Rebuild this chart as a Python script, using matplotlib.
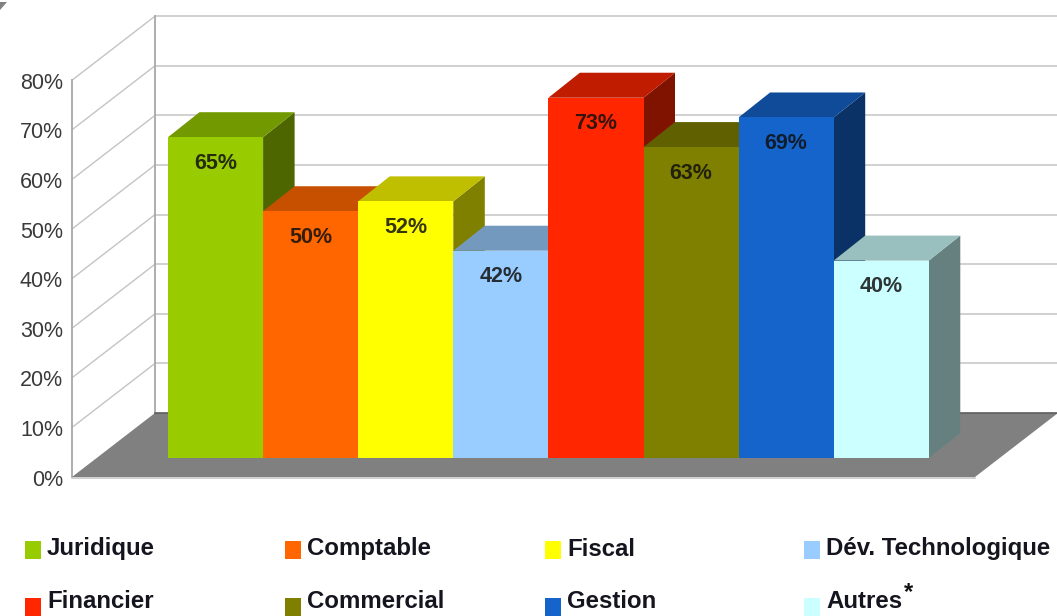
import matplotlib
matplotlib.use("Agg")
import matplotlib.pyplot as plt
from matplotlib.patches import Polygon, Rectangle

plt.rcParams['font.family'] = ['Liberation Sans', 'DejaVu Sans']

categories = ['Juridique', 'Comptable', 'Fiscal', 'Dév. Technologique',
              'Financier', 'Commercial', 'Gestion', 'Autres']
values = [65, 50, 52, 42, 73, 63, 69, 40]
ticks = [0, 10, 20, 30, 40, 50, 60, 70, 80]

front_colors = ['#99CC00', '#FF6600', '#FFFF00', '#99CCFF',
                '#FF2600', '#808000', '#1464CC', '#CCFFFF']
top_colors = ['#739900', '#C75000', '#BFBF00', '#7399BF',
              '#BF1C00', '#606000', '#0F4B99', '#99BFBF']
side_colors = ['#4D6600', '#803300', '#808000', '#4D6680',
               '#801300', '#404000', '#0A3266', '#668080']

W, H = 1057, 616
PX_X = 95.1       # pixels per category
PX_Y = 4.96       # pixels per percent
X0_PX, Y0_PX = 168.0, 477.0   # pixel of category 0 left edge / 0 % on front axis

fig = plt.figure(figsize=(W / 100, H / 100), dpi=100, facecolor='white')
ax = fig.add_axes([0, 0, 1, 1])
ax.set_xlim(-X0_PX / PX_X, (W - X0_PX) / PX_X)
ax.set_ylim(-(H - Y0_PX) / PX_Y, Y0_PX / PX_Y)
ax.axis('off')

def P(x, y):
    return (x / W, 1 - y / H)

# oblique depth, in data units
wall_dx, wall_dy = 83 / PX_X, 64 / PX_Y
bar_dx, bar_dy = 31.5 / PX_X, 25 / PX_Y
axis_x = (72 - X0_PX) / PX_X
floor_right = (975 - X0_PX) / PX_X
bar_base = 19 / PX_Y
bar_scale = 0.995
ymax = ticks[-1]

grid = '#C4C4C4'
axis_col = '#A8A8A8'

# back wall and side wall gridlines
for t in ticks[1:]:
    ax.plot([axis_x + wall_dx, floor_right + wall_dx], [t + wall_dy] * 2,
            color=grid, lw=1.1, zorder=1, solid_capstyle='butt')
    ax.plot([axis_x, axis_x + wall_dx], [t, t + wall_dy],
            color=grid, lw=1.0, zorder=1)
ax.plot([axis_x + wall_dx] * 2, [wall_dy, ymax + wall_dy], color=axis_col, lw=1.3, zorder=2)
ax.plot([axis_x] * 2, [0, ymax], color=axis_col, lw=1.3, zorder=2)

# floor
ax.add_patch(Polygon([(axis_x, 0), (floor_right, 0),
                      (floor_right + wall_dx, wall_dy), (axis_x + wall_dx, wall_dy)],
                     closed=True, fc='#808080', ec='none', zorder=3))
ax.plot([axis_x + wall_dx, floor_right + wall_dx], [wall_dy, wall_dy],
        color='#5E5E5E', lw=1.2, zorder=3)
ax.plot([axis_x, floor_right], [-0.25, -0.25], color='#C8C8C8', lw=1.2, zorder=3)

# bars, painted left to right
z = 4
for i, v in enumerate(values):
    top = bar_base + v * bar_scale
    ax.add_patch(Polygon([(i + 1, bar_base), (i + 1 + bar_dx, bar_base + bar_dy),
                          (i + 1 + bar_dx, top + bar_dy), (i + 1, top)],
                         closed=True, fc=side_colors[i], ec='none', zorder=z))
    ax.add_patch(Polygon([(i, top), (i + bar_dx, top + bar_dy),
                          (i + 1 + bar_dx, top + bar_dy), (i + 1, top)],
                         closed=True, fc=top_colors[i], ec='none', zorder=z))
    ax.add_patch(Rectangle((i, bar_base), 1, top - bar_base,
                           fc=front_colors[i], ec='none', zorder=z + 0.5))
    ax.annotate(f'{v}%', (i + 0.5, top), xytext=(0, -26), textcoords='offset pixels',
                ha='center', va='center', fontsize=15.5, fontweight='bold',
                color='#111111', zorder=30, alpha=0.85)
    z += 1

# tick labels
for t in ticks:
    ax.annotate(f'{t}%', (axis_x, t), xytext=(-9, -3), textcoords='offset pixels',
                ha='right', va='center', fontsize=15.5, color='#3A3A3A', zorder=30)

# legend
col_px = [25, 285, 545, 804]
row_px = [550, 607]
text_px = [549, 602]
for i, name in enumerate(categories):
    cx, cy = col_px[i % 4], row_px[i // 4]
    fig.patches.append(Rectangle(P(cx, cy + 9), 16 / W, 18 / H, transform=fig.transFigure,
                                 fc=front_colors[i], ec='none', figure=fig))
    fig.text(*P(cx + 22, text_px[i // 4]), name, ha='left', va='center', fontsize=17.3,
             fontweight='bold', color='#15151F')
fig.text(*P(908, 593), '*', ha='center', va='center', fontsize=17,
         fontweight='bold', color='#111111')

# small corner mark
fig.patches.append(Polygon([P(0, 2), P(7, 2), P(0, 10)], closed=True,
                           transform=fig.transFigure, fc='#808080', ec='none', figure=fig))

fig.savefig('out.png', dpi=100, facecolor='white')
